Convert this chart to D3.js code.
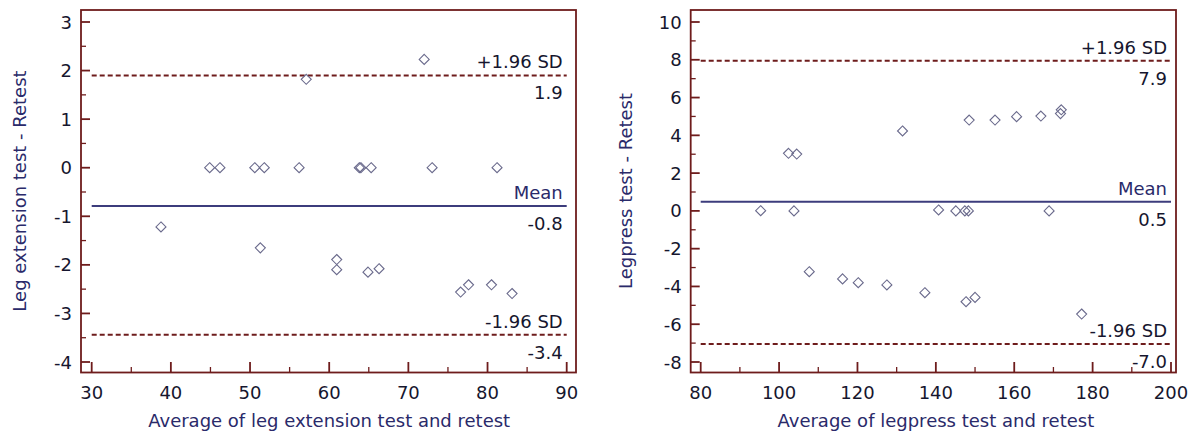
<!DOCTYPE html>
<html>
<head>
<meta charset="utf-8">
<script src="https://cdn.jsdelivr.net/npm/d3@7"></script>
<style>
  body { margin: 0; background: #fff; }
  svg text { font-family: "DejaVu Sans", sans-serif; }
</style>
</head>
<body>
<div class="chart"></div>
<script>
var width = 1188, height = 435;

// left panel: leg extension
var legExtAvg = [38.75, 44.9, 46.2, 50.6, 51.3, 51.8, 56.2, 57.1, 60.95, 60.95, 63.8, 64.0, 64.9, 65.3, 66.3, 72.0, 73.0, 76.6, 77.6, 80.5, 81.2, 83.1];
var legExtDiff = [-1.22, 0, 0, 0, -1.65, 0, 0, 1.82, -1.89, -2.10, 0, 0, -2.15, 0, -2.08, 2.23, 0, -2.56, -2.41, -2.41, 0, -2.59];
var legExtLines = [1.9, -0.79, -3.44];
var legExtLineText = ["1.9", "-0.8", "-3.4"];

// right panel: legpress
var legpressAvg = [95.3, 102.4, 103.8, 104.5, 107.7, 116.2, 120.2, 127.5, 131.5, 137.2, 140.7, 145.1, 147.4, 147.7, 148.3, 148.5, 150.0, 155.1, 160.6, 166.8, 168.9, 171.8, 172.0, 177.2];
var legpressDiff = [0.01, 3.05, 0, 3.01, -3.22, -3.6, -3.8, -3.92, 4.23, -4.33, 0.05, 0, 0, -4.81, 0, 4.81, -4.58, 4.81, 4.99, 5.02, 0, 5.15, 5.35, -5.46];
var legpressLines = [7.95, 0.49, -7.05];
var legpressLineText = ["7.9", "0.5", "-7.0"];

var lineTags = ["+1.96 SD", "Mean", "-1.96 SD"];

var svg = d3.select('.chart')
    .append('svg')
    .attr('width', width)
    .attr('height', height);

function drawPanel(cfg) {
    var g = svg.append('g');
    var x = d3.scaleLinear().domain(cfg.xDomain).range(cfg.xRange);
    var y = d3.scaleLinear().domain(cfg.yDomain).range([362, 22]);

    var frameColor = '#6e1c1c';

    // frame
    g.append('rect')
        .attr('x', cfg.frame[0]).attr('y', 10)
        .attr('width', cfg.frame[1] - cfg.frame[0]).attr('height', 362.5)
        .attr('fill', 'none').attr('stroke', frameColor).attr('stroke-width', 1.8);

    // y ticks (inside, from left frame)
    var yMajor = d3.range(cfg.yDomain[0], cfg.yDomain[1] + 0.001, cfg.yStep);
    var yMinor = d3.range(cfg.yDomain[0] + cfg.yStep / 2, cfg.yDomain[1], cfg.yStep);
    g.selectAll('.ymaj').data(yMajor).enter().append('line')
        .attr('x1', cfg.frame[0]).attr('x2', cfg.frame[0] + 9)
        .attr('y1', d => y(d)).attr('y2', d => y(d))
        .attr('stroke', frameColor).attr('stroke-width', 1.8);
    g.selectAll('.ymin').data(yMinor).enter().append('line')
        .attr('x1', cfg.frame[0]).attr('x2', cfg.frame[0] + 5)
        .attr('y1', d => y(d)).attr('y2', d => y(d))
        .attr('stroke', frameColor).attr('stroke-width', 1.3);
    g.selectAll('.ylab').data(yMajor).enter().append('text')
        .attr('x', cfg.frame[0] - 9).attr('y', d => y(d) + 6.5)
        .attr('text-anchor', 'end').attr('font-size', 18).attr('fill', '#16162e')
        .text(d => d);

    // x ticks (inside, from bottom frame)
    var xMajor = d3.range(cfg.xDomain[0], cfg.xDomain[1] + 0.001, cfg.xStep);
    var xMinor = d3.range(cfg.xDomain[0] + cfg.xStep / 2, cfg.xDomain[1], cfg.xStep);
    g.selectAll('.xmaj').data(xMajor).enter().append('line')
        .attr('x1', d => x(d)).attr('x2', d => x(d))
        .attr('y1', 372.5).attr('y2', 362)
        .attr('stroke', frameColor).attr('stroke-width', 1.8);
    g.selectAll('.xmin').data(xMinor).enter().append('line')
        .attr('x1', d => x(d)).attr('x2', d => x(d))
        .attr('y1', 372.5).attr('y2', 367)
        .attr('stroke', frameColor).attr('stroke-width', 1.3);
    g.selectAll('.xlab').data(xMajor).enter().append('text')
        .attr('x', d => x(d)).attr('y', 399)
        .attr('text-anchor', 'middle').attr('font-size', 18).attr('fill', '#16162e')
        .text(d => d);

    // axis titles
    g.append('text')
        .attr('x', (cfg.xRange[0] + cfg.xRange[1]) / 2).attr('y', 427)
        .attr('text-anchor', 'middle').attr('font-size', 18).attr('fill', '#2a2a6a')
        .text(cfg.xTitle);
    g.append('text')
        .attr('transform', 'translate(' + cfg.yTitleX + ',191) rotate(-90)')
        .attr('text-anchor', 'middle').attr('font-size', 18).attr('fill', '#2a2a6a')
        .text(cfg.yTitle);

    // limit lines
    cfg.lines.forEach(function (v, i) {
        var mean = i === 1;
        g.append('line')
            .attr('x1', x(cfg.xDomain[0])).attr('x2', x(cfg.xDomain[1]))
            .attr('y1', y(v)).attr('y2', y(v))
            .attr('stroke', mean ? '#3c3c7c' : '#6e1c1c')
            .attr('stroke-width', 2)
            .attr('stroke-dasharray', mean ? null : '5,3');
        g.append('text')
            .attr('x', x(cfg.xDomain[1]) - 4).attr('y', y(v) - 7)
            .attr('text-anchor', 'end').attr('font-size', 18)
            .attr('fill', mean ? '#2a2a6a' : '#16162e')
            .text(lineTags[i]);
        g.append('text')
            .attr('x', x(cfg.xDomain[1]) - 4).attr('y', y(v) + 24)
            .attr('text-anchor', 'end').attr('font-size', 18).attr('fill', '#16162e')
            .text(cfg.lineText[i]);
    });

    // points
    var sym = d3.symbol().type(d3.symbolDiamond2).size(64);
    g.selectAll('.pt').data(cfg.avg).enter().append('path')
        .attr('d', sym)
        .attr('transform', (d, i) => 'translate(' + x(d) + ',' + y(cfg.diff[i]) + ')')
        .attr('fill', 'none').attr('stroke', '#6a6a8c').attr('stroke-width', 1.1);
}

drawPanel({
    xDomain: [30, 90], xStep: 10, xRange: [91.7, 566.7],
    yDomain: [-4, 3], yStep: 1,
    frame: [81, 576],
    xTitle: 'Average of leg extension test and retest',
    yTitle: 'Leg extension test - Retest', yTitleX: 26,
    avg: legExtAvg, diff: legExtDiff,
    lines: legExtLines, lineText: legExtLineText
});

drawPanel({
    xDomain: [80, 200], xStep: 20, xRange: [700.7, 1171],
    yDomain: [-8, 10], yStep: 2,
    frame: [690.7, 1176],
    xTitle: 'Average of legpress test and retest',
    yTitle: 'Legpress test - Retest', yTitleX: 632,
    avg: legpressAvg, diff: legpressDiff,
    lines: legpressLines, lineText: legpressLineText
});
</script>
</body>
</html>
